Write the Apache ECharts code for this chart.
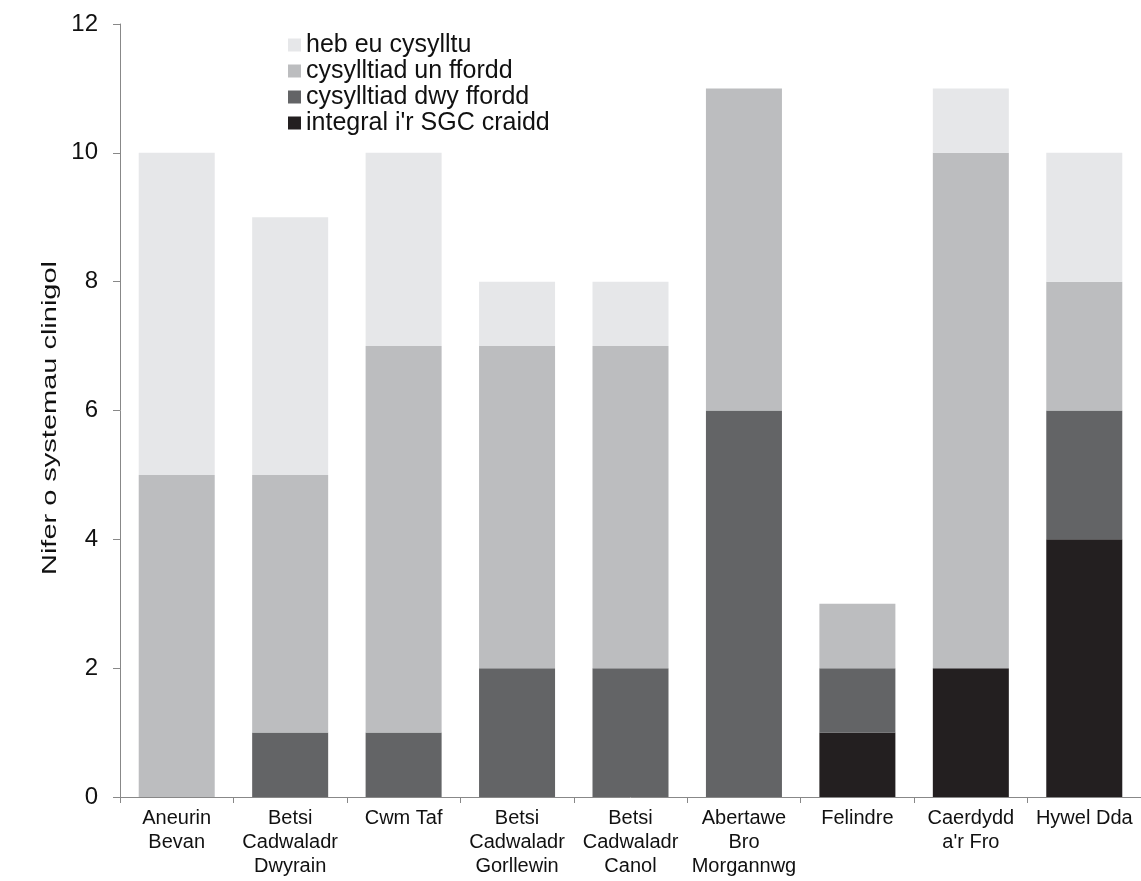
<!DOCTYPE html>
<html><head><meta charset="utf-8">
<script src="https://cdn.jsdelivr.net/npm/echarts@6/dist/echarts.min.js"></script>
<style>html,body{margin:0;padding:0;background:#fff}#c{width:1141px;height:881px}</style>
</head><body><div id="c"></div>
<script>
const categories = ["Aneurin\nBevan","Betsi\nCadwaladr\nDwyrain","Cwm Taf","Betsi\nCadwaladr\nGorllewin","Betsi\nCadwaladr\nCanol","Abertawe\nBro\nMorgannwg","Felindre","Caerdydd\na'r Fro","Hywel Dda"];
const integral = [0,0,0,0,0,0,1,2,4];
const dwyFfordd = [0,1,1,2,2,6,1,0,2];
const unFfordd = [5,4,6,5,5,5,1,8,2];
const hebCysylltu = [5,4,3,1,1,0,0,1,2];
const yTitle = "Nifer o systemau clinigol";
const names = ["heb eu cysylltu","cysylltiad un ffordd","cysylltiad dwy ffordd","integral i'r SGC craidd"];
const colors = {"heb eu cysylltu":"#e6e7e9","cysylltiad un ffordd":"#bcbdbf","cysylltiad dwy ffordd":"#636466","integral i'r SGC craidd":"#231f20"};
const font = "Liberation Sans, Arial, sans-serif";
const chart = echarts.init(document.getElementById('c'));
function s(name, data){return {name, type:'bar', stack:'t', data, barCategoryGap:'33%', itemStyle:{color:colors[name]}};}
chart.setOption({
  animation:false,
  textStyle:{fontFamily:font},
  grid:{left:120,right:0,top:24,bottom:84,containLabel:false},
  legend:{orient:'vertical',left:283,top:27,itemWidth:13,itemHeight:13,itemGap:0,icon:'rect',
    data:names,textStyle:{fontSize:25,lineHeight:26,color:'#111',fontFamily:font}},
  graphic:[{type:'text',x:50,y:418,rotation:Math.PI/2,scaleX:1.38,
    style:{text:yTitle,fontSize:21,fontFamily:font,fill:'#111',align:'center',verticalAlign:'middle'}}],
  xAxis:{type:'category',data:categories,
    axisLine:{lineStyle:{color:'#888'}},
    axisTick:{show:true,length:6,lineStyle:{color:'#888'}},
    axisLabel:{fontSize:20,color:'#111',lineHeight:24,margin:9,interval:0,fontFamily:font}},
  yAxis:{type:'value',min:0,max:12,interval:2,
    axisLine:{show:true,lineStyle:{color:'#888'}},
    axisTick:{show:true,length:7,lineStyle:{color:'#888'}},
    splitLine:{show:false},
    axisLabel:{fontSize:24,color:'#111',margin:22,fontFamily:font}},
  series:[s("integral i'r SGC craidd",integral),s("cysylltiad dwy ffordd",dwyFfordd),s("cysylltiad un ffordd",unFfordd),s("heb eu cysylltu",hebCysylltu)]
});
</script></body></html>
